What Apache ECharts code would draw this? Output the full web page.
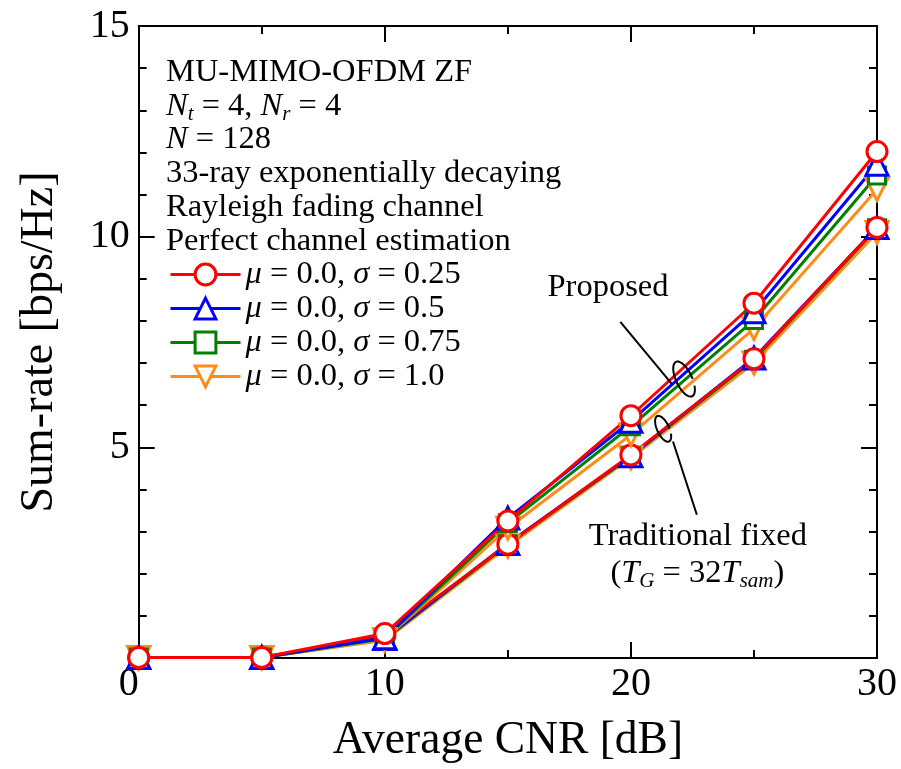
<!DOCTYPE html>
<html>
<head>
<meta charset="utf-8">
<script src="https://cdn.jsdelivr.net/npm/echarts@6/dist/echarts.min.js"></script>
<style>
  html, body { margin: 0; padding: 0; background: #fff; }
  #chart { width: 901px; height: 769px; }
</style>
</head>
<body>
<div id="chart"></div>
<script>
// Average CNR [dB]
const cnr = [0, 5, 10, 15, 20, 25, 30];

// Proposed scheme, sum-rate [bps/Hz]
const propSigma025 = [0.01, 0.01, 0.58, 3.25, 5.75, 8.42, 12.02];
const propSigma05  = [0.01, 0.01, 0.48, 3.32, 5.62, 8.22, 11.72];
const propSigma075 = [0.01, 0.01, 0.46, 3.20, 5.50, 8.02, 11.45];
const propSigma10  = [0.01, 0.01, 0.44, 3.08, 5.30, 7.82, 11.12];

// Traditional fixed guard interval (T_G = 32 T_sam)
const tradSigma025 = [0.01, 0.01, 0.52, 2.70, 4.82, 7.10, 10.22];
const tradSigma05  = [0.01, 0.01, 0.46, 2.72, 4.80, 7.12, 10.22];
const tradSigma075 = [0.01, 0.01, 0.45, 2.70, 4.79, 7.08, 10.20];
const tradSigma10  = [0.01, 0.01, 0.42, 2.65, 4.75, 7.00, 10.10];

const seriesNames = ['μ = 0.0, σ = 0.25', 'μ = 0.0, σ = 0.5', 'μ = 0.0, σ = 0.75', 'μ = 0.0, σ = 1.0'];

const xTicks = [0, 10, 20, 30];
const yTicks = [5, 10, 15];

const infoLines = [
  '{r|MU-MIMO-OFDM ZF}',
  '{i|N}{sub|t}{r| = 4, }{i|N}{sub|r}{r| = 4}',
  '{i|N}{r| = 128}',
  '{r|33-ray exponentially decaying}',
  '{r|Rayleigh fading channel}',
  '{r|Perfect channel estimation}'
];

const FONT = '"Liberation Serif", "Times New Roman", serif';
const colors = ['#ff0000', '#0000ff', '#008000', '#ff8c1a'];
const symbols = ['circle', 'triangle', 'rect', 'triangle'];
const symbolRot = [0, 0, 0, 180];
const symbolSizes = [20, 22, 17, 22];

function makeSeries(name, values, k) {
  return {
    type: 'line',
    name: name,
    data: cnr.map((x, j) => [x, values[j]]),
    symbol: symbols[k],
    symbolRotate: symbolRot[k],
    symbolSize: symbolSizes[k],
    showAllSymbol: true,
    color: colors[k],
    lineStyle: { color: colors[k], width: 3 },
    itemStyle: { color: '#ffffff', borderColor: colors[k], borderWidth: 3 },
    emphasis: { disabled: true },
    z: 2
  };
}

const propSets = [propSigma025, propSigma05, propSigma075, propSigma10];
const tradSets = [tradSigma025, tradSigma05, tradSigma075, tradSigma10];
const series = [];
// draw σ = 1.0 first so that σ = 0.25 ends up on top
for (let k = 3; k >= 0; k--) series.push(makeSeries(seriesNames[k], tradSets[k], k));
for (let k = 3; k >= 0; k--) series.push(makeSeries(seriesNames[k], propSets[k], k));

const axisLineStyle = { color: '#000', width: 2 };
const tickStyle = { color: '#000', width: 2 };

const chart = echarts.init(document.getElementById('chart'), null, { renderer: 'canvas' });

const richBase = {
  r: { fontFamily: FONT, fontSize: 32.5, color: '#000', lineHeight: 36 },
  i: { fontFamily: FONT, fontSize: 32.5, fontStyle: 'italic', color: '#000', lineHeight: 36 },
  sub: { fontFamily: FONT, fontSize: 21, fontStyle: 'italic', color: '#000', lineHeight: 20, padding: [16, 0, 0, 0] }
};

chart.setOption({
  animation: false,
  backgroundColor: '#ffffff',
  grid: { left: 138.7, right: 24, top: 26, bottom: 108, containLabel: false },
  xAxis: [
    {
      type: 'value', min: 0, max: 30, interval: 10, position: 'bottom',
      axisLine: { onZero: false, lineStyle: axisLineStyle },
      axisTick: { inside: true, length: 16, lineStyle: tickStyle },
      minorTick: { show: true, splitNumber: 2, length: 8, lineStyle: tickStyle },
      splitLine: { show: false },
      axisLabel: {
        fontFamily: FONT, fontSize: 40, color: '#000', margin: 6,
        alignMinLabel: 'right',
        formatter: v => (xTicks.indexOf(v) >= 0 ? String(v) : '')
      },
      name: 'Average CNR [dB]', nameLocation: 'middle', nameGap: 60,
      nameTextStyle: { fontFamily: FONT, fontSize: 45.5, color: '#000' }
    },
    {
      type: 'value', min: 0, max: 30, interval: 10, position: 'top',
      axisLine: { onZero: false, lineStyle: axisLineStyle },
      axisTick: { inside: true, length: 16, lineStyle: tickStyle },
      minorTick: { show: true, splitNumber: 2, length: 8, lineStyle: tickStyle },
      splitLine: { show: false },
      axisLabel: { show: false }
    }
  ],
  yAxis: [
    {
      type: 'value', min: 0, max: 15, interval: 5, position: 'left',
      axisLine: { onZero: false, lineStyle: axisLineStyle },
      axisTick: { inside: true, length: 16, lineStyle: tickStyle },
      minorTick: { show: true, splitNumber: 5, length: 8, lineStyle: tickStyle },
      splitLine: { show: false },
      axisLabel: {
        fontFamily: FONT, fontSize: 40, color: '#000', margin: 9,
        formatter: v => (yTicks.indexOf(v) >= 0 ? String(v) : '')
      },
      name: 'Sum-rate [bps/Hz]', nameLocation: 'middle', nameGap: 76,
      nameTextStyle: { fontFamily: FONT, fontSize: 46, color: '#000' }
    },
    {
      type: 'value', min: 0, max: 15, interval: 5, position: 'right',
      axisLine: { onZero: false, lineStyle: axisLineStyle },
      axisTick: { inside: true, length: 16, lineStyle: tickStyle },
      minorTick: { show: true, splitNumber: 5, length: 8, lineStyle: tickStyle },
      splitLine: { show: false },
      axisLabel: { show: false }
    }
  ],
  legend: {
    data: seriesNames,
    orient: 'vertical',
    left: 164,
    top: 253,
    itemWidth: 70,
    itemHeight: 26,
    itemGap: 1,
    selectedMode: false,
    lineStyle: { width: 3 },
    itemStyle: { borderWidth: 3 },
    formatter: name => name.replace(/([μσ])/g, '{i|$1}'),
    textStyle: {
      fontFamily: FONT, fontSize: 32.5, color: '#000', lineHeight: 26,
      rich: {
        i: { fontFamily: FONT, fontSize: 32.5, fontStyle: 'italic', color: '#000', lineHeight: 26 }
      }
    }
  },
  series: series
});

// ---- annotations (text block, "Proposed" / "Traditional fixed" callouts) ----
function px(x, y) { return chart.convertToPixel({ xAxisIndex: 0, yAxisIndex: 0 }, [x, y]); }

function ellipsePoints(cx, cy, a, b, rotDeg, t0, t1) {
  const r = rotDeg * Math.PI / 180, pts = [], n = 48;
  for (let k = 0; k <= n; k++) {
    const t = t0 + (t1 - t0) * k / n;
    const ex = a * Math.cos(t), ey = b * Math.sin(t);
    pts.push([cx + ex * Math.cos(r) - ey * Math.sin(r), cy + ex * Math.sin(r) + ey * Math.cos(r)]);
  }
  return pts;
}

const graphics = [];
const baselines = [83, 117, 150.5, 184, 218, 252];
infoLines.forEach((txt, k) => {
  graphics.push({
    type: 'text', x: 166, y: baselines[k] - 11, silent: true,
    style: { text: txt, rich: richBase, verticalAlign: 'middle', align: 'left' }
  });
});

const annStroke = { stroke: '#000', lineWidth: 2, fill: null };

// "Proposed" callout
const pLabel = px(19.07, 8.53);
graphics.push({
  type: 'text', x: pLabel[0], y: pLabel[1] - 11, silent: true,
  style: { text: '{r|Proposed}', rich: richBase, align: 'center', verticalAlign: 'middle' }
});
const pFrom = px(19.57, 7.98), pTo = px(21.67, 6.50), pEll = px(22.16, 6.62);
graphics.push({ type: 'line', silent: true, shape: { x1: pFrom[0], y1: pFrom[1], x2: pTo[0], y2: pTo[1] }, style: annStroke, z: 10 });
graphics.push({ type: 'polyline', silent: true, shape: { points: ellipsePoints(pEll[0], pEll[1], 19, 8, 65, -1.0, 4.9) }, style: annStroke, z: 10 });

// "Traditional fixed" callout
const tEll = px(21.31, 5.44), tFrom = px(21.71, 5.14), tTo = px(22.68, 3.40);
graphics.push({ type: 'polyline', silent: true, shape: { points: ellipsePoints(tEll[0], tEll[1], 14, 6, 65, -1.0, 4.9) }, style: annStroke, z: 10 });
graphics.push({ type: 'line', silent: true, shape: { x1: tFrom[0], y1: tFrom[1], x2: tTo[0], y2: tTo[1] }, style: annStroke, z: 10 });
const tLabel1 = px(22.72, 2.62), tLabel2 = px(22.70, 1.75);
graphics.push({
  type: 'text', x: tLabel1[0], y: tLabel1[1] - 11, silent: true,
  style: { text: '{r|Traditional fixed}', rich: richBase, align: 'center', verticalAlign: 'middle' }
});
graphics.push({
  type: 'text', x: tLabel2[0], y: tLabel2[1] - 11, silent: true,
  style: { text: '{r|(}{i|T}{sub|G}{r| = 32}{i|T}{sub|sam}{r|)}', rich: richBase, align: 'center', verticalAlign: 'middle' }
});

chart.setOption({ graphic: graphics });
</script>
</body>
</html>
